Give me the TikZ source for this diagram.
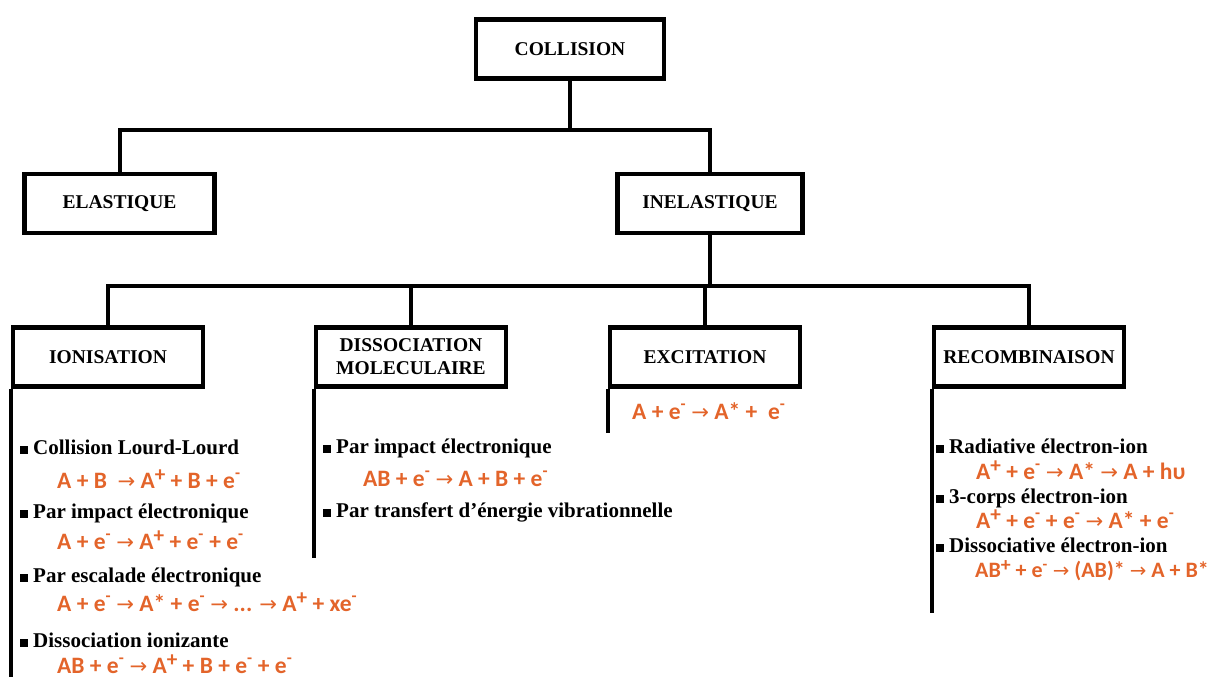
\documentclass[tikz,border=0pt]{standalone}
\usepackage{fontspec}
\setmainfont{Liberation Serif}
\newfontfamily\eqfamily{Carlito}
\newfontfamily\arrowfamily{DejaVu Sans}
\usepackage{tikz}
\usetikzlibrary{positioning}
\usepackage{xcolor}
\definecolor{inkBlack}{HTML}{000000}
\definecolor{eqOrange}{HTML}{E3642A}
\newcommand\hi[1]{\raisebox{0.55ex}{\scalebox{0.9}{#1}}}
\newcommand\lo{\textsuperscript{-}}
\newcommand\ra{{\arrowfamily\mdseries\scalebox{0.9}{→}}}
\newcommand\sqb{\rule{8pt}{8pt}\hspace{5pt}}

\begin{document}
\begin{tikzpicture}[x=1pt, y=-1pt,
    box/.style={draw, line width=4.5pt, minimum width=190pt, minimum height=59pt, inner sep=0pt, align=center, font=\bfseries\fontsize{19.5}{23}\selectfont},
    item/.style={anchor=base west, inner sep=0pt, font=\bfseries\fontsize{21}{25}\selectfont},
    eq/.style={anchor=base west, inner sep=0pt, text=eqOrange, font=\eqfamily\bfseries\fontsize{23.5}{26}\selectfont},
    link/.style={line width=4pt, inkBlack}]
    \useasboundingbox (0,0) rectangle (1221,677);
    % boxes
    \node[box, minimum width=188pt] (col) at (570,49) {COLLISION};
    \node[box] (ela) at (119.5,203.5) {ELASTIQUE};
    \node[box, minimum width=185pt] (inel) at (710,203.5) {INELASTIQUE};
    \node[box] (ion) at (108,357) {IONISATION};
    \node[box] (dis) at (411,357) {DISSOCIATION\\MOLECULAIRE};
    \node[box] (exc) at (705,357) {EXCITATION};
    \node[box] (rec) at (1029,357) {RECOMBINAISON};
    % tree
    \coordinate (bus1) at (570,130);
    \coordinate (bus2) at (710,286);
    \draw[link] (col.south) -- (bus1);
    \draw[link] (ela.north) |- (bus1) -| (inel.north);
    \draw[link] (inel.south) -- (bus2);
    \draw[link] (ion.north) |- (bus2) -| (rec.north);
    \draw[link] (dis.north) -- (dis.north |- bus2);
    \draw[link] (exc.north) -- (exc.north |- bus2);
    % side rails
    \coordinate (ionEnd) at (ion.south west |- 0,677);
    \coordinate (disEnd) at (dis.south west |- 0,558);
    \coordinate (excEnd) at (exc.south west |- 0,433);
    \coordinate (recEnd) at (rec.south west |- 0,613);
    \draw[link] (ion.south west) -- (ionEnd);
    \draw[link] (dis.south west) -- (disEnd);
    \draw[link] (exc.south west) -- (excEnd);
    \draw[link] (rec.south west) -- (recEnd);
    % ionisation
    \node[item] (ion1) at (20,454) {\sqb Collision Lourd-Lourd};
    \node[eq] (ionEq1) at (57,488) {A + B \ \ra{} A\hi{+} + B + e\lo};
    \node[item] (ion2) at (20,518) {\sqb Par impact électronique};
    \node[eq] (ionEq2) at (57,549) {A + e\lo{} \ra{} A\hi{+} + e\lo{} + e\lo};
    \node[item] (ion3) at (20,582) {\sqb Par escalade électronique};
    \node[eq] (ionEq3) at (57,611) {A + e\lo{} \ra{} A* + e\lo{} \ra{} ... \ra{} A\hi{+} + xe\lo};
    \node[item] (ion4) at (20,647) {\sqb Dissociation ionizante};
    \node[eq] (ionEq4) at (57,673) {AB + e\lo{} \ra{} A\hi{+} + B + e\lo{} + e\lo};
    % dissociation
    \node[item] (dis1) at (323,453) {\sqb Par impact électronique};
    \node[eq] (disEq1) at (363,486) {AB + e\lo{} \ra{} A + B + e\lo};
    \node[item] (dis2) at (323,517) {\sqb Par transfert d’énergie vibrationnelle};
    % excitation
    \node[eq] (excEq1) at (632,419) {A + e\lo{} \ra{} A* + \ e\lo};
    % recombinaison
    \node[item] (rec1) at (936,453) {\sqb Radiative électron-ion};
    \node[eq] (recEq1) at (976,479) {A\hi{+} + e\lo{} \ra{} A* \ra{} A + hυ};
    \node[item] (rec2) at (936,503) {\sqb 3-corps électron-ion};
    \node[eq] (recEq2) at (976,528) {A\hi{+} + e\lo{} + e\lo{} \ra{} A* + e\lo};
    \node[item] (rec3) at (936,552) {\sqb Dissociative électron-ion};
    \node[eq, font=\eqfamily\bfseries\fontsize{22}{26}\selectfont] (recEq3) at (975,577) {AB\hi{+} + e\lo{} \ra{} (AB)* \ra{} A + B*};
  \end{tikzpicture}
\end{document}
